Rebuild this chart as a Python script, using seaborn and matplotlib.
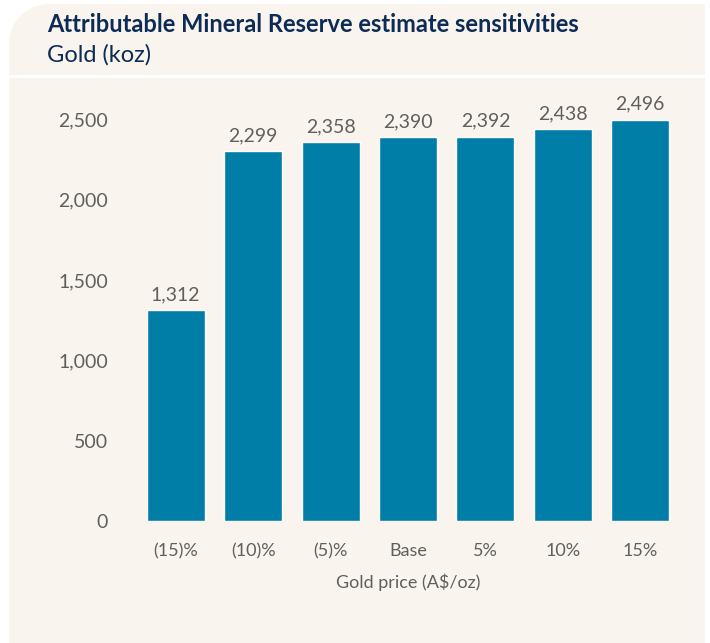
import matplotlib
matplotlib.use("Agg")
import matplotlib.pyplot as plt
from matplotlib.patches import Rectangle, Circle
import seaborn as sns
import pandas as pd

# data
price_change = ["(15)%", "(10)%", "(5)%", "Base", "5%", "10%", "15%"]
gold_koz = [1312, 2299, 2358, 2390, 2392, 2438, 2496]
yticks = [0, 500, 1000, 1500, 2000, 2500]

cream = "#f9f5ee"
navy = "#0c2b56"
grey = "#5f5f5f"
bar_blue = "#007ea8"

sns.set_theme(style="white")
plt.rcParams["font.family"] = ["Lato", "DejaVu Sans"]

fig = plt.figure(figsize=(7.10, 6.43), dpi=100)
fig.patch.set_facecolor("white")

# cream panel with rounded top-left corner (inches)
W, H = 7.10, 6.43
x0, x1, ytop, r = 0.09, 7.05, H - 0.04, 0.40
tr = fig.dpi_scale_trans
fig.patches.append(Rectangle((x0 + r, 0), x1 - x0 - r, ytop, transform=tr,
                             facecolor=cream, edgecolor="none", zorder=0))
fig.patches.append(Rectangle((x0, 0), x1 - x0, ytop - r, transform=tr,
                             facecolor=cream, edgecolor="none", zorder=0))
fig.patches.append(Circle((x0 + r, ytop - r), r, transform=tr,
                          facecolor=cream, edgecolor="none", zorder=0))
# white divider under the title
fig.patches.append(Rectangle((x0, H - 0.775), x1 - x0, 0.03, transform=tr,
                             facecolor="white", edgecolor="none", zorder=1))

fig.text(47 / 710, 1 - 25 / 643, "Attributable Mineral Reserve estimate sensitivities",
         fontsize=17, fontweight="bold", color=navy, va="center", ha="left")
fig.text(47 / 710, 1 - 55 / 643, "Gold (koz)", fontsize=17, color=navy,
         va="center", ha="left")

ax = fig.add_axes([137 / 710, 122 / 643, 542 / 710, 434 / 643])
ax.set_facecolor("none")
ax.set_zorder(3)

df = pd.DataFrame({"change": price_change, "koz": gold_koz})
sns.barplot(data=df, x="change", y="koz", color=bar_blue, saturation=1,
            width=0.75, ax=ax)

for c in ax.containers:
    ax.bar_label(c, labels=[f"{v:,.0f}" for v in c.datavalues], padding=5,
                 fontsize=14, color=grey)

ax.set_xlim(-0.5, 6.5)
ax.set_ylim(0, 2700)
ax.set_yticks(yticks)
ax.set_yticklabels([f"{v:,}" for v in yticks])
ax.tick_params(axis="y", length=0, pad=21, labelsize=14, labelcolor=grey)
ax.tick_params(axis="x", length=0, pad=16, labelsize=13, labelcolor=grey)
ax.set_xlabel("Gold price (A$/oz)", fontsize=13, color=grey, labelpad=10)
ax.set_ylabel("")
sns.despine(ax=ax, left=True, bottom=True)

fig.savefig("out.png", dpi=100, facecolor=fig.get_facecolor())
